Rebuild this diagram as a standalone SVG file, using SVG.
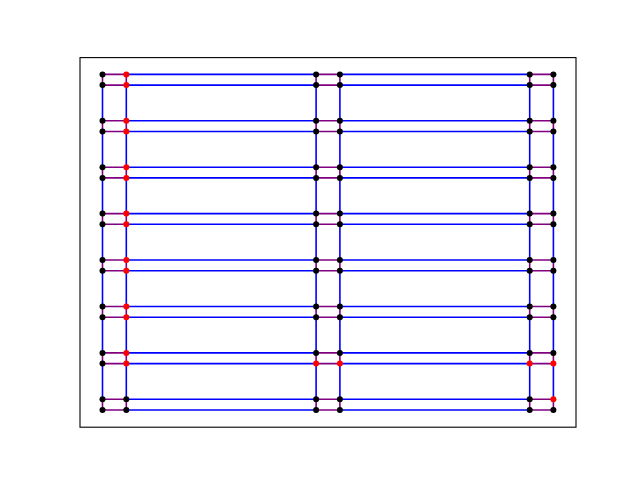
<svg xmlns="http://www.w3.org/2000/svg" width="640" height="480" viewBox="0 0 640 480">
<style>
.b{stroke:#0000ff;stroke-width:1.6;fill:none}
.p{stroke:#800080;stroke-width:1.6;fill:none}
.k{fill:#000000}
.r{fill:#ff0000}
</style>
<rect x="0" y="0" width="640" height="480" fill="#ffffff"/>
<g id="connectors">
<g class="p">
<path d="M102.5 74.4H126.3M316.1 74.4H339.9M529.7 74.4H553.4M102.5 85.1H126.3M316.1 85.1H339.9M529.7 85.1H553.4M102.5 120.8H126.3M316.1 120.8H339.9M529.7 120.8H553.4M102.5 131.5H126.3M316.1 131.5H339.9M529.7 131.5H553.4M102.5 167.2H126.3M316.1 167.2H339.9M529.7 167.2H553.4M102.5 177.9H126.3M316.1 177.9H339.9M529.7 177.9H553.4M102.5 213.6H126.3M316.1 213.6H339.9M529.7 213.6H553.4M102.5 224.3H126.3M316.1 224.3H339.9M529.7 224.3H553.4M102.5 260H126.3M316.1 260H339.9M529.7 260H553.4M102.5 270.7H126.3M316.1 270.7H339.9M529.7 270.7H553.4M102.5 306.5H126.3M316.1 306.5H339.9M529.7 306.5H553.4M102.5 317.2H126.3M316.1 317.2H339.9M529.7 317.2H553.4M102.5 352.9H126.3M316.1 352.9H339.9M529.7 352.9H553.4M102.5 363.6H126.3M316.1 363.6H339.9M529.7 363.6H553.4M102.5 399.3H126.3M316.1 399.3H339.9M529.7 399.3H553.4M102.5 410H126.3M316.1 410H339.9M529.7 410H553.4"/>
<path d="M102.5 74.4V85.1M102.5 120.8V131.5M102.5 167.2V177.9M102.5 213.6V224.3M102.5 260V270.7M102.5 306.5V317.2M102.5 352.9V363.6M102.5 399.3V410M126.3 74.4V85.1M126.3 120.8V131.5M126.3 167.2V177.9M126.3 213.6V224.3M126.3 260V270.7M126.3 306.5V317.2M126.3 352.9V363.6M126.3 399.3V410M316.1 74.4V85.1M316.1 120.8V131.5M316.1 167.2V177.9M316.1 213.6V224.3M316.1 260V270.7M316.1 306.5V317.2M316.1 352.9V363.6M316.1 399.3V410M339.9 74.4V85.1M339.9 120.8V131.5M339.9 167.2V177.9M339.9 213.6V224.3M339.9 260V270.7M339.9 306.5V317.2M339.9 352.9V363.6M339.9 399.3V410M529.7 74.4V85.1M529.7 120.8V131.5M529.7 167.2V177.9M529.7 213.6V224.3M529.7 260V270.7M529.7 306.5V317.2M529.7 352.9V363.6M529.7 399.3V410M553.4 74.4V85.1M553.4 120.8V131.5M553.4 167.2V177.9M553.4 213.6V224.3M553.4 260V270.7M553.4 306.5V317.2M553.4 352.9V363.6M553.4 399.3V410"/>
</g>
<g class="b">
<path d="M126.3 74.4H316.1M339.9 74.4H529.7M126.3 85.1H316.1M339.9 85.1H529.7M126.3 120.8H316.1M339.9 120.8H529.7M126.3 131.5H316.1M339.9 131.5H529.7M126.3 167.2H316.1M339.9 167.2H529.7M126.3 177.9H316.1M339.9 177.9H529.7M126.3 213.6H316.1M339.9 213.6H529.7M126.3 224.3H316.1M339.9 224.3H529.7M126.3 260H316.1M339.9 260H529.7M126.3 270.7H316.1M339.9 270.7H529.7M126.3 306.5H316.1M339.9 306.5H529.7M126.3 317.2H316.1M339.9 317.2H529.7M126.3 352.9H316.1M339.9 352.9H529.7M126.3 363.6H316.1M339.9 363.6H529.7M126.3 399.3H316.1M339.9 399.3H529.7M126.3 410H316.1M339.9 410H529.7"/>
<path d="M102.5 85.1V120.8M102.5 131.5V167.2M102.5 177.9V213.6M102.5 224.3V260M102.5 270.7V306.5M102.5 317.2V352.9M102.5 363.6V399.3M126.3 85.1V120.8M126.3 131.5V167.2M126.3 177.9V213.6M126.3 224.3V260M126.3 270.7V306.5M126.3 317.2V352.9M126.3 363.6V399.3M316.1 85.1V120.8M316.1 131.5V167.2M316.1 177.9V213.6M316.1 224.3V260M316.1 270.7V306.5M316.1 317.2V352.9M316.1 363.6V399.3M339.9 85.1V120.8M339.9 131.5V167.2M339.9 177.9V213.6M339.9 224.3V260M339.9 270.7V306.5M339.9 317.2V352.9M339.9 363.6V399.3M529.7 85.1V120.8M529.7 131.5V167.2M529.7 177.9V213.6M529.7 224.3V260M529.7 270.7V306.5M529.7 317.2V352.9M529.7 363.6V399.3M553.4 85.1V120.8M553.4 131.5V167.2M553.4 177.9V213.6M553.4 224.3V260M553.4 270.7V306.5M553.4 317.2V352.9M553.4 363.6V399.3"/>
</g>
</g>
<g id="nodes">
<g id="n0-0"><circle class="k" cx="102.5" cy="74.4" r="3"/></g>
<g id="n0-1"><circle class="k" cx="102.5" cy="85.1" r="3"/></g>
<g id="n0-2"><circle class="k" cx="102.5" cy="120.8" r="3"/></g>
<g id="n0-3"><circle class="k" cx="102.5" cy="131.5" r="3"/></g>
<g id="n0-4"><circle class="k" cx="102.5" cy="167.2" r="3"/></g>
<g id="n0-5"><circle class="k" cx="102.5" cy="177.9" r="3"/></g>
<g id="n0-6"><circle class="k" cx="102.5" cy="213.6" r="3"/></g>
<g id="n0-7"><circle class="k" cx="102.5" cy="224.3" r="3"/></g>
<g id="n0-8"><circle class="k" cx="102.5" cy="260" r="3"/></g>
<g id="n0-9"><circle class="k" cx="102.5" cy="270.7" r="3"/></g>
<g id="n0-10"><circle class="k" cx="102.5" cy="306.5" r="3"/></g>
<g id="n0-11"><circle class="k" cx="102.5" cy="317.2" r="3"/></g>
<g id="n0-12"><circle class="k" cx="102.5" cy="352.9" r="3"/></g>
<g id="n0-13"><circle class="k" cx="102.5" cy="363.6" r="3"/></g>
<g id="n0-14"><circle class="k" cx="102.5" cy="399.3" r="3"/></g>
<g id="n0-15"><circle class="k" cx="102.5" cy="410" r="3"/></g>
<g id="n1-0"><circle class="r" cx="126.3" cy="74.4" r="3"/></g>
<g id="n1-1"><circle class="r" cx="126.3" cy="85.1" r="3"/></g>
<g id="n1-2"><circle class="r" cx="126.3" cy="120.8" r="3"/></g>
<g id="n1-3"><circle class="r" cx="126.3" cy="131.5" r="3"/></g>
<g id="n1-4"><circle class="r" cx="126.3" cy="167.2" r="3"/></g>
<g id="n1-5"><circle class="r" cx="126.3" cy="177.9" r="3"/></g>
<g id="n1-6"><circle class="r" cx="126.3" cy="213.6" r="3"/></g>
<g id="n1-7"><circle class="r" cx="126.3" cy="224.3" r="3"/></g>
<g id="n1-8"><circle class="r" cx="126.3" cy="260" r="3"/></g>
<g id="n1-9"><circle class="r" cx="126.3" cy="270.7" r="3"/></g>
<g id="n1-10"><circle class="r" cx="126.3" cy="306.5" r="3"/></g>
<g id="n1-11"><circle class="r" cx="126.3" cy="317.2" r="3"/></g>
<g id="n1-12"><circle class="r" cx="126.3" cy="352.9" r="3"/></g>
<g id="n1-13"><circle class="r" cx="126.3" cy="363.6" r="3"/></g>
<g id="n1-14"><circle class="k" cx="126.3" cy="399.3" r="3"/></g>
<g id="n1-15"><circle class="k" cx="126.3" cy="410" r="3"/></g>
<g id="n2-0"><circle class="k" cx="316.1" cy="74.4" r="3"/></g>
<g id="n2-1"><circle class="k" cx="316.1" cy="85.1" r="3"/></g>
<g id="n2-2"><circle class="k" cx="316.1" cy="120.8" r="3"/></g>
<g id="n2-3"><circle class="k" cx="316.1" cy="131.5" r="3"/></g>
<g id="n2-4"><circle class="k" cx="316.1" cy="167.2" r="3"/></g>
<g id="n2-5"><circle class="k" cx="316.1" cy="177.9" r="3"/></g>
<g id="n2-6"><circle class="k" cx="316.1" cy="213.6" r="3"/></g>
<g id="n2-7"><circle class="k" cx="316.1" cy="224.3" r="3"/></g>
<g id="n2-8"><circle class="k" cx="316.1" cy="260" r="3"/></g>
<g id="n2-9"><circle class="k" cx="316.1" cy="270.7" r="3"/></g>
<g id="n2-10"><circle class="k" cx="316.1" cy="306.5" r="3"/></g>
<g id="n2-11"><circle class="k" cx="316.1" cy="317.2" r="3"/></g>
<g id="n2-12"><circle class="k" cx="316.1" cy="352.9" r="3"/></g>
<g id="n2-13"><circle class="r" cx="316.1" cy="363.6" r="3"/></g>
<g id="n2-14"><circle class="k" cx="316.1" cy="399.3" r="3"/></g>
<g id="n2-15"><circle class="k" cx="316.1" cy="410" r="3"/></g>
<g id="n3-0"><circle class="k" cx="339.9" cy="74.4" r="3"/></g>
<g id="n3-1"><circle class="k" cx="339.9" cy="85.1" r="3"/></g>
<g id="n3-2"><circle class="k" cx="339.9" cy="120.8" r="3"/></g>
<g id="n3-3"><circle class="k" cx="339.9" cy="131.5" r="3"/></g>
<g id="n3-4"><circle class="k" cx="339.9" cy="167.2" r="3"/></g>
<g id="n3-5"><circle class="k" cx="339.9" cy="177.9" r="3"/></g>
<g id="n3-6"><circle class="k" cx="339.9" cy="213.6" r="3"/></g>
<g id="n3-7"><circle class="k" cx="339.9" cy="224.3" r="3"/></g>
<g id="n3-8"><circle class="k" cx="339.9" cy="260" r="3"/></g>
<g id="n3-9"><circle class="k" cx="339.9" cy="270.7" r="3"/></g>
<g id="n3-10"><circle class="k" cx="339.9" cy="306.5" r="3"/></g>
<g id="n3-11"><circle class="k" cx="339.9" cy="317.2" r="3"/></g>
<g id="n3-12"><circle class="k" cx="339.9" cy="352.9" r="3"/></g>
<g id="n3-13"><circle class="r" cx="339.9" cy="363.6" r="3"/></g>
<g id="n3-14"><circle class="k" cx="339.9" cy="399.3" r="3"/></g>
<g id="n3-15"><circle class="k" cx="339.9" cy="410" r="3"/></g>
<g id="n4-0"><circle class="k" cx="529.7" cy="74.4" r="3"/></g>
<g id="n4-1"><circle class="k" cx="529.7" cy="85.1" r="3"/></g>
<g id="n4-2"><circle class="k" cx="529.7" cy="120.8" r="3"/></g>
<g id="n4-3"><circle class="k" cx="529.7" cy="131.5" r="3"/></g>
<g id="n4-4"><circle class="k" cx="529.7" cy="167.2" r="3"/></g>
<g id="n4-5"><circle class="k" cx="529.7" cy="177.9" r="3"/></g>
<g id="n4-6"><circle class="k" cx="529.7" cy="213.6" r="3"/></g>
<g id="n4-7"><circle class="k" cx="529.7" cy="224.3" r="3"/></g>
<g id="n4-8"><circle class="k" cx="529.7" cy="260" r="3"/></g>
<g id="n4-9"><circle class="k" cx="529.7" cy="270.7" r="3"/></g>
<g id="n4-10"><circle class="k" cx="529.7" cy="306.5" r="3"/></g>
<g id="n4-11"><circle class="k" cx="529.7" cy="317.2" r="3"/></g>
<g id="n4-12"><circle class="k" cx="529.7" cy="352.9" r="3"/></g>
<g id="n4-13"><circle class="r" cx="529.7" cy="363.6" r="3"/></g>
<g id="n4-14"><circle class="k" cx="529.7" cy="399.3" r="3"/></g>
<g id="n4-15"><circle class="k" cx="529.7" cy="410" r="3"/></g>
<g id="n5-0"><circle class="k" cx="553.4" cy="74.4" r="3"/></g>
<g id="n5-1"><circle class="k" cx="553.4" cy="85.1" r="3"/></g>
<g id="n5-2"><circle class="k" cx="553.4" cy="120.8" r="3"/></g>
<g id="n5-3"><circle class="k" cx="553.4" cy="131.5" r="3"/></g>
<g id="n5-4"><circle class="k" cx="553.4" cy="167.2" r="3"/></g>
<g id="n5-5"><circle class="k" cx="553.4" cy="177.9" r="3"/></g>
<g id="n5-6"><circle class="k" cx="553.4" cy="213.6" r="3"/></g>
<g id="n5-7"><circle class="k" cx="553.4" cy="224.3" r="3"/></g>
<g id="n5-8"><circle class="k" cx="553.4" cy="260" r="3"/></g>
<g id="n5-9"><circle class="k" cx="553.4" cy="270.7" r="3"/></g>
<g id="n5-10"><circle class="k" cx="553.4" cy="306.5" r="3"/></g>
<g id="n5-11"><circle class="k" cx="553.4" cy="317.2" r="3"/></g>
<g id="n5-12"><circle class="k" cx="553.4" cy="352.9" r="3"/></g>
<g id="n5-13"><circle class="r" cx="553.4" cy="363.6" r="3"/></g>
<g id="n5-14"><circle class="r" cx="553.4" cy="399.3" r="3"/></g>
<g id="n5-15"><circle class="k" cx="553.4" cy="410" r="3"/></g>
</g>
<rect x="80" y="57.6" width="496" height="369.6" fill="none" stroke="#000000" stroke-width="1.1"/>
</svg>
